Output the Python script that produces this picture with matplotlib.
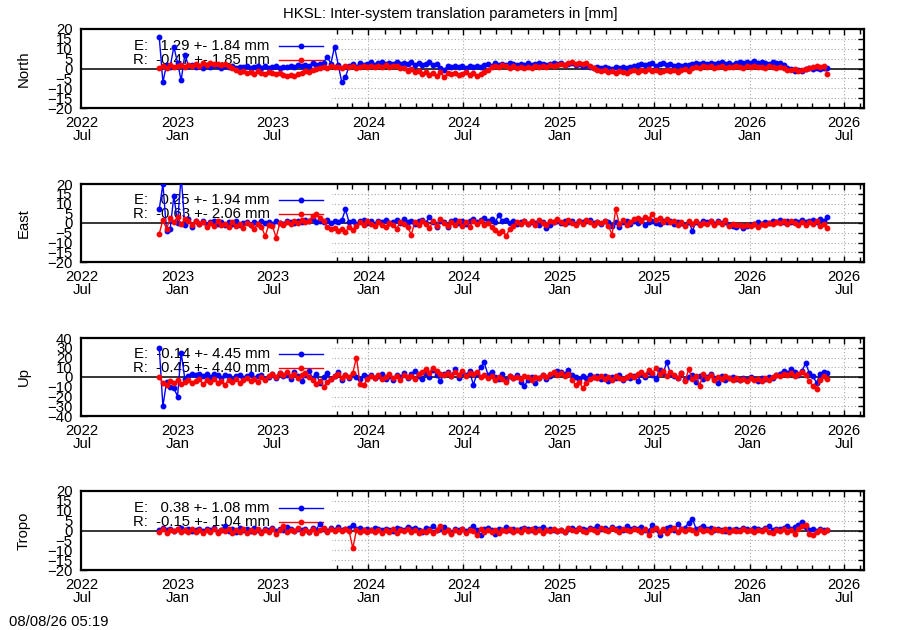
import matplotlib
matplotlib.use("Agg")
import matplotlib.pyplot as plt
import matplotlib.dates as mdates
from matplotlib.patches import Rectangle
import numpy as np
import pandas as pd
from datetime import datetime

plt.rcParams['font.family'] = ['Liberation Sans', 'DejaVu Sans']

# ---------------- data (weekly samples) ----------------
start_date = "2022-11-26"

north_E = [16, -7, 2, 1, 11, 3, -6, 7, 1.5, 2.0,
           0.8, 1.2, 0.5, 1.6, 0.9, 1.8, 1.1, 0.4, 1.5, 0.7,
           1.2, 0.3, 1.0, 0.6, 1.4, 0.2, 0.9, 1.3, 0.5, 1.1,
           0.4, 0.8, 1.5, 0.3, 1.0, 0.6, 1.2, 0.9, 1.6, 1.1,
           2.0, 1.5, 2.6, 1.8, 2.3, 3.0, 6.0, 2.5, 11.0, 2.0,
           -7.0, -4.5, 1.5, 2.2, 1.0, 2.6, 1.8, 2.4, 3.2, 2.0,
           2.8, 3.5, 2.2, 3.0, 2.5, 3.4, 2.1, 2.9, 2.4, 3.1,
           2.0, 2.7, 1.8, 2.5, 3.2, 1.6, 2.3, 0.5, -0.8, 1.2,
           0.6, 1.4, 0.8, 1.1, 0.3, 1.5, 0.9, 1.2, 0.6, 1.8,
           2.2, 1.5, 2.6, 1.9, 2.4, 1.6, 2.8, 2.1, 1.7, 2.5,
           2.0, 2.7, 1.8, 2.3, 2.9, 2.2, 1.6, 2.5, 3.0, 2.1,
           2.6, 1.9, 2.4, 2.8, 1.8, 2.2, 1.5, 1.9, 0.8, 0.3,
           0.6, 0.1, 0.9, 0.4, -0.2, 0.7, 0.5, 1.0, 0.2, 0.8,
           1.2, 1.8, 2.4, 1.6, 2.1, 2.7, 1.5, 2.2, 3.0, 1.8,
           2.3, 1.4, 1.9, 1.2, 2.0, 1.6, 2.4, 2.8, 2.2, 3.0,
           2.5, 2.9, 2.1, 2.7, 3.2, 2.4, 2.8, 2.0, 2.6, 3.1,
           2.7, 3.3, 2.9, 3.6, 2.8, 3.4, 3.0, 2.5, 3.2, 2.6,
           2.9, 2.0, 0.5, -0.5, -1.2, -0.8, -1.5, -0.3, 0.2, -0.4,
           0.3, -0.2, 0.5, 0.1]

north_R = [0.5, 1.5, 0.2, 1.8, 0.8, 1.2, 2.0, 0.6, 1.6, 1.1,
           2.2, 1.5, 2.6, 1.9, 2.8, 2.1, 2.5, 1.7, 2.4, 1.4,
           0.2, -1.0, -1.8, -1.2, -2.3, -1.6, -2.6, -1.4, -2.1, -2.8,
           -1.7, -2.4, -3.0, -2.2, -3.4, -3.8, -3.1, -3.9, -2.8, -2.2,
           -1.5, -1.9, -0.8, -0.3, 0.4, 0.9, 0.3, 1.2, 0.6, 1.0,
           0.5, 1.3, 0.7, 1.1, 0.4, 0.9, 1.4, 0.8, 1.2, 0.6,
           1.3, 0.9, 1.6, 0.7, 1.1, 1.5, 0.5, 0.2, -1.2, -0.5,
           -2.0, -1.3, -2.8, -1.6, -3.2, -2.2, -3.6, -1.8, -4.2, -2.5,
           -3.0, -2.2, -3.5, -2.6, -1.9, -3.1, -2.4, -3.8, -2.7, -2.0,
           -0.8, 0.6, 1.4, 0.9, 1.8, 1.2, 0.5, 1.1, 0.3, 0.8,
           0.2, 1.0, 0.4, 1.3, 0.7, 1.5, 0.9, 1.8, 1.2, 2.0,
           2.4, 1.9, 2.8, 3.2, 2.5, 3.0, 2.2, 2.7, 1.5, 0.2,
           -0.8, -1.5, -1.0, -2.0, -1.3, -2.5, -1.1, -1.8, -2.2, -1.4,
           -1.0, -1.6, -0.7, -1.2, -0.4, -1.5, -0.9, -2.0, -1.1, -0.6,
           -1.4, -0.8, -1.7, -1.0, -0.5, -1.3, 0.2, 0.9, 0.4, 1.1,
           0.6, 1.2, 0.3, 0.8, 1.4, 0.5, 1.0, 0.7, 1.3, 0.9,
           0.5, 1.2, 0.8, 1.5, 0.6, 1.0, 0.4, 1.1, 0.7, 0.3,
           0.9, 0.2, -0.6, -1.0, -0.3, -1.4, -0.7, -0.2, 0.4, 0.9,
           1.4, 0.8, 1.2, -3.0]

east_E = [7, 20, -4, -3, 14, 0, 24, -1, 2, -2,
          1.0, -0.5, 0.8, -1.2, 0.3, 1.1, -0.6, 0.4, -0.9, 0.7,
          -0.3, 0.9, -1.0, 0.2, 0.6, -0.8, 0.5, -0.4, 1.0, -0.2,
          0.6, -0.5, 0.8, 0.1, -0.7, 0.9, 0.3, -0.2, 1.2, 0.5,
          1.5, 0.8, 1.9, 0.4, 1.2, 0.6, 1.6, 0.2, 1.0, 0.5,
          1.4, 7.0, 0.3, 1.1, -0.4, 0.8, 1.3, 0.2, 0.9, -0.5,
          1.0, 0.4, 1.6, -0.2, 0.7, 1.3, 0.0, 2.2, 0.5, 1.1,
          -0.3, 0.9, 1.5, 0.2, 3.2, 0.6, -1.8, 1.0, 0.3, -2.2,
          0.8, 1.6, 0.2, 1.2, -0.4, 0.9, 1.8, 0.5, 1.3, 2.5,
          1.0, 1.8, 0.4, 4.2, 0.9, 1.5, 0.2, 0.8, -0.3, 0.6,
          1.2, -0.5, 0.7, 0.1, -1.2, 0.5, -2.5, -1.0, 0.3, 0.9,
          -0.2, 1.1, 0.4, 0.8, -0.6, 1.2, 0.3, 0.9, 1.5, 0.2,
          0.7, -0.4, 1.0, 0.3, -1.5, 0.6, -2.0, 0.4, 1.1, -0.3,
          0.8, 0.1, 1.3, -0.8, 0.5, 1.0, 0.2, -0.5, 0.9, 0.4,
          1.2, -0.3, 0.6, 0.0, -1.0, 0.7, -4.0, 0.4, -0.6, 0.9,
          0.3, 1.1, -0.4, 0.8, 0.2, 0.6, -0.8, -1.5, -2.2, -1.0,
          -2.8, -1.6, -0.9, -0.3, 0.4, -0.5, 0.7, 0.2, 1.0, 0.5,
          1.4, 0.6, 1.0, 0.3, 1.2, 0.7, 1.5, 0.4, 0.9, 1.3,
          0.6, 1.8, 1.1, 3.2]

east_R = [-5.5, 1.5, -3.0, 2.5, 0.5, 3.0, -0.5, 2.0, 0.8, -1.0,
          1.2, -0.5, 0.6, -2.0, 0.2, -1.5, 0.8, -1.2, -0.3, -2.2,
          0.4, -1.6, -0.6, -2.5, 0.1, -1.0, -3.0, -0.4, -1.8, -6.8,
          -0.8, -1.5, -7.5, -0.2, -1.2, 0.6, -0.5, 1.0, 0.2, 1.4,
          0.5, 1.1, 3.5, 4.5, 2.8, 1.0, -1.8, -3.2, -2.5, -4.0,
          -3.0, -4.5, -2.2, -3.6, -1.5, 0.3, -0.8, 0.8, -0.3, -1.5,
          0.5, -0.9, -2.2, 0.2, -1.1, -3.0, 0.6, -0.4, -1.8, -6.0,
          0.4, -1.0, 1.2, -0.6, -2.5, 0.8, -1.3, 2.2, -0.2, -1.6,
          0.5, -0.8, 1.1, -1.4, 0.3, -2.0, 0.9, -0.5, 1.2, -1.0,
          0.2, -1.8, -3.5, -5.0, -4.0, -6.5, -3.0, -1.5, 0.4, -0.6,
          1.0, -0.3, 0.8, -1.0, 1.5, 0.2, -0.8, 1.2, 0.4, 2.0,
          0.6, -0.5, 1.3, 0.1, -1.2, 0.9, -0.4, 1.6, 0.3, -0.8,
          0.7, -0.2, 1.1, -1.5, -6.0, 7.0, -0.5, 1.4, -0.9, 0.6,
          1.8, 2.6, 1.2, 3.2, 2.0, 4.8, 1.5, 2.8, 0.6, 2.2,
          0.3, 1.0, -0.8, 0.5, -1.5, 0.8, -0.4, 1.2, -1.0, 0.2,
          -0.6, 0.9, -1.2, 0.4, -0.3, 1.3, -1.5, -0.5, -1.2, -0.8,
          -1.6, -0.9, -1.4, -0.6, -1.8, -0.4, -1.0, 0.2, -0.7, 0.5,
          -0.2, 0.8, -0.5, 1.1, 0.0, -0.8, 0.6, -1.2, 0.3, -0.5,
          0.9, -1.5, -0.6, -2.5]

up_E = [30, -30, -5, -10, -11, -20, 25, -2, 1, 3,
        2.0, 3.5, 1.0, 2.8, 0.5, 3.2, 1.8, -1.0, 2.5, 0.8,
        -3.0, 1.5, 2.2, -1.5, 0.6, 3.0, -0.8, 1.2, 2.0, -2.2,
        0.5, 3.5, -1.0, 4.2, 0.8, 2.5, -2.5, 5.0, 1.0, -4.0,
        2.0, 6.5, -1.5, 3.0, -6.0, 0.5, 4.0, -2.0, 1.5, 5.5,
        -3.5, 2.0, -1.0, 3.5, 0.2, -2.5, 1.8, -0.5, 2.5, -1.5,
        0.8, 3.0, -2.0, 1.5, -3.5, 2.2, 0.0, 4.0, -1.0, 2.8,
        6.0, 1.0, -2.5, 4.5, 0.5, 7.5, 2.0, -4.0, 3.5, 5.0,
        1.5, 8.0, -1.0, 4.5, 2.0, 6.0, -8.0, 3.0, 10.0, 15.0,
        2.5, 5.5, 0.5, -2.0, 3.0, -3.5, 1.0, -1.5, 2.0, -5.0,
        -9.0, -3.0, 0.5, -6.5, -1.0, 2.0, -2.5, 1.5, 4.5, 6.5,
        5.0, 3.0, 7.0, 2.5, 0.5, -2.0, 1.0, -1.5, 2.0, -0.5,
        0.8, -2.5, 1.5, -4.0, 0.2, -1.5, 2.5, -3.0, 0.5, -1.0,
        1.5, -4.5, 3.0, 0.5, 5.5, 2.0, -2.0, 7.5, 4.0, 15.0,
        3.5, 1.0, -1.5, 4.0, -3.0, 0.5, 2.5, -5.5, 1.0, -2.0,
        0.5, 3.0, -1.5, -6.0, 1.0, -3.5, -1.0, 0.5, -2.0, -2.8,
        -1.5, -3.0, -0.5, -2.5, -4.0, -1.0, -2.0, 0.5, -1.5, 2.0,
        3.5, 6.5, 4.0, 8.0, 5.0, 2.5, 6.0, 14.0, 4.5, 1.0,
        -6.0, 3.0, 5.5, 4.0]

up_R = [0.0, -6.0, -8.0, -4.0, -6.5, -3.5, -7.0, -5.0, -3.0, -6.0,
        -4.5, -2.5, -7.5, -3.5, -5.5, -2.0, -6.5, -4.0, -8.0, -3.0,
        -5.0, -2.5, -6.0, -3.5, -1.5, -4.5, -2.0, -5.5, -0.5, -3.0,
        1.5, 3.5, 0.5, 4.0, 2.0, 5.5, 1.0, 3.0, -1.0, 2.5,
        4.5, 0.5, -3.5, -7.0, -4.0, -10.0, -5.5, -2.0, 1.0, 3.5,
        -1.5, 2.5, 0.0, 4.0, 20.0, -7.0, -8.0, -2.0, 1.5, -1.0,
        2.0, -2.5, 0.5, 3.0, -1.5, 1.0, -3.0, 2.5, -0.5, 1.5,
        -2.0, 3.5, 5.5, 8.0, 4.0, 9.5, 6.0, 3.5, 2.0, 4.5,
        1.5, 5.0, 2.5, 6.5, 1.0, 4.0, 3.0, 5.5, 0.5, 2.0,
        -1.0, 1.5, -3.5, 0.5, -2.0, -5.0, 1.0, -1.5, 0.0, -2.5,
        1.5, -0.5, -3.0, 0.5, -1.5, 2.5, 0.0, 3.5, 5.0, 2.0,
        4.0, 1.5, 3.0, -3.0, -8.0, -5.5, -11.0, -6.0, -2.0, 0.5,
        -1.5, 1.0, -2.0, 0.5, -3.0, 1.5, -1.0, -2.5, 0.5, 2.0,
        -0.5, 3.0, 5.0, 2.0, 7.0, 4.0, 9.0, 3.0, 6.0, 1.5,
        5.5, 2.5, -1.5, 4.0, -4.0, 8.0, -2.5, 1.0, -9.0, 3.5,
        -1.0, 2.5, -3.0, 0.5, -2.0, 1.5, -1.0, -3.0, -1.5, -3.5,
        -2.0, -4.0, -1.5, -3.0, -2.5, -4.5, -1.0, -3.0, 0.5, 2.5,
        1.5, 3.5, 2.0, 4.0, 1.5, 3.0, 5.5, 2.5, -4.0, -9.0,
        -12.0, -3.0, 1.5, -2.0]

tropo_E = [0.5, 1.2, 0.2, 0.9, -0.3, 0.6, 1.4, 0.1, 0.8, -0.5,
           0.4, 1.0, -0.2, 0.7, 0.3, 1.3, -0.6, 0.5, 2.2, 0.0,
           0.6, -0.8, 1.1, 0.2, 0.8, -0.4, 1.5, 0.3, -1.0, 0.9,
           0.4, 1.2, -0.5, 0.7, 0.1, 2.0, 0.6, -0.3, 1.0, 0.2,
           0.8, -0.6, 1.3, 0.4, 3.5, 0.9, 0.0, 1.1, 0.5, 1.6,
           0.3, 0.8, 1.5, 3.0, 0.6, 1.2, 0.2, 0.9, 0.4, 1.3,
           0.7, 0.1, 1.0, 0.5, -0.2, 1.4, 0.6, 0.3, 2.0, 0.8,
           1.5, 0.4, -0.9, 1.1, 0.6, 2.2, 0.3, 0.9, 1.8, 0.5,
           -1.2, 0.7, 0.2, 1.0, -0.5, 0.8, 2.5, 0.4, -2.5, 0.6,
           1.2, 0.3, -1.8, 0.9, 0.5, 1.6, 0.2, 1.0, 0.4, 0.8,
           1.4, 0.6, 0.1, 1.1, 0.7, 1.8, 0.3, 0.9, 0.2, -0.3,
           0.5, -0.6, 0.8, 1.2, 0.4, 1.5, 0.9, 0.3, 1.1, 0.6,
           2.5, 0.8, 1.3, 0.5, 1.6, 0.9, 1.2, 0.4, 2.2, 1.0,
           1.5, 0.7, 1.9, 0.3, -0.2, 2.8, 0.6, -2.5, 0.4, 1.2,
           2.0, 0.5, 3.2, 0.8, 1.5, 4.0, 6.0, 0.9, 1.4, 2.5,
           0.6, 1.1, 0.3, 1.0, 0.5, -0.4, 0.7, 0.2, 0.9, 0.4,
           1.2, 0.6, 0.3, 1.4, 0.8, 0.5, 1.1, 2.5, 0.3, 0.9,
           0.6, 1.3, 2.2, 0.8, 1.6, 3.0, 4.5, 1.8, 0.4, 0.9,
           -0.5, 0.8, 0.1, 0.5]

tropo_R = [-0.8, 0.8, -1.2, 0.5, -0.5, 0.9, -1.0, 0.3, -0.6, 0.6,
           -0.9, 0.2, -1.3, 0.4, -0.7, 0.7, -1.1, 0.1, -0.4, 0.8,
           -1.5, 0.3, -0.8, 0.9, -1.2, 0.2, -0.6, 1.0, -1.4, 0.4,
           -0.9, 0.6, -1.6, 0.2, 2.5, -1.0, 0.5, -0.5, 1.2, -1.3,
           0.3, -0.7, 0.8, -1.1, 0.4, 1.5, -0.8, 0.6, -0.3, 0.9,
           -0.5, 1.0, -0.2, -9.0, 0.2, -0.6, 0.4, -1.0, 0.3, -0.7,
           0.5, -1.2, 0.1, -0.8, 0.6, -1.4, 0.2, -0.5, 0.7, -1.0,
           0.3, -1.5, 0.0, -0.9, 0.5, -1.3, 0.2, 2.5, -0.8, 0.4,
           -1.8, 0.1, -0.6, 0.8, -1.2, 0.3, -0.4, -2.5, 0.6, -1.0,
           0.2, -0.7, 0.5, -1.1, 0.4, -0.3, 0.9, -0.6, 0.1, -1.0,
           0.6, -0.4, 0.8, -0.9, 0.3, -1.2, 0.5, -0.2, 1.0, -0.5,
           0.4, -0.8, 1.1, 0.2, -0.5, 1.3, 0.0, -0.7, 0.9, 0.3,
           -0.6, 1.2, 0.4, -0.3, 1.5, 0.1, -0.8, 0.9, 0.5, -0.4,
           1.0, 0.2, -1.0, 0.7, -2.2, 0.5, 1.1, -0.6, 0.8, -1.3,
           0.4, 1.2, -0.9, 0.6, -0.3, 1.0, 0.2, -1.5, 0.7, -0.2,
           0.5, -0.6, 0.9, 0.1, -0.4, 0.6, -0.8, 0.3, 0.0, -0.5,
           0.7, -0.3, 0.4, -1.0, 0.5, -0.2, 0.8, -0.6, -1.5, 0.3,
           -0.4, 0.6, -0.9, 0.2, -2.0, 1.0, 2.5, 3.0, -1.8, -2.5,
           -1.0, 0.5, -0.8, 0.2]

panel_names = ["North", "East", "Up", "Tropo"]
panel_limits = [20, 20, 40, 20]
panel_steps = [5, 5, 10, 5]
mean_E = [1.29, 0.25, -0.14, 0.38]
std_E = [1.84, 1.94, 4.45, 1.08]
mean_R = [-0.47, -0.63, -0.45, -0.15]
std_R = [1.85, 2.06, 4.40, 1.04]
series_E = [north_E, east_E, up_E, tropo_E]
series_R = [north_R, east_R, up_R, tropo_R]

title = "HKSL: Inter-system translation parameters in [mm]"
stamp = "08/08/26 05:19"

# ---------------- figure ----------------
W, H = 900, 630
fig = plt.figure(figsize=(W / 100, H / 100), dpi=100)

panel_px = [(29, 108), (184, 262), (338, 416), (491, 570)]
left_px, right_px = 81, 864
xmin, xmax = datetime(2022, 6, 29), datetime(2026, 8, 8)

FS = 10.7
blue = (0, 0, 1)
red = (1, 0, 0)
MS = 3.2
LW = 1.0

for k in range(4):
    top, bot = panel_px[k]
    ax = fig.add_axes([left_px / W, (H - bot) / H, (right_px - left_px) / W, (bot - top) / H])
    lim, step = panel_limits[k], panel_steps[k]
    ax.set_xlim(xmin, xmax)
    ax.set_ylim(-lim, lim)
    ax.set_yticks(np.arange(-lim, lim + 1, step))
    ax.xaxis.set_major_locator(mdates.MonthLocator(bymonth=[1, 7]))
    ax.xaxis.set_minor_locator(mdates.MonthLocator())
    ax.xaxis.set_major_formatter(mdates.DateFormatter("%Y\n%b"))
    ax.tick_params(which='both', direction='in', top=True, right=True,
                   labelsize=FS, width=1.0, colors='black')
    ax.tick_params(which='major', length=4)
    ax.tick_params(which='minor', length=3.5)
    ax.tick_params(axis='y', pad=6)
    ax.tick_params(axis='x', pad=6)
    for lbl in ax.get_xticklabels():
        lbl.set_linespacing(0.92)
    for sp in ax.spines.values():
        sp.set_linewidth(1.6)
    ax.set_axisbelow(True)
    ax.grid(True, which='major', color='#a8a8a8', linestyle=(0, (1, 2)), linewidth=0.8)

    # opaque key area
    ax.add_patch(Rectangle((0, 0), 0.32, 1, transform=ax.transAxes,
                           facecolor='white', edgecolor='none', zorder=1))
    ax.axhline(0, color='black', lw=1.1, zorder=2)

    ax.set_ylabel(panel_names[k], fontsize=FS)
    ax.yaxis.set_label_coords((31 - left_px) / (right_px - left_px), 0.5)

    # key
    ky = [0.79, 0.61]
    labels = ["E: {:6.2f} +- {:.2f} mm".format(mean_E[k], std_E[k]),
              "R: {:6.2f} +- {:.2f} mm".format(mean_R[k], std_R[k])]
    for j, (lab, col) in enumerate(zip(labels, [blue, red])):
        ax.text(0.241, ky[j], lab, transform=ax.transAxes, ha='right', va='center',
                fontsize=FS, zorder=2.5)
        ax.plot([0.253, 0.309], [ky[j], ky[j]], transform=ax.transAxes,
                color=col, lw=LW, zorder=2.6)
        ax.plot([0.281], [ky[j]], transform=ax.transAxes, marker='o', ms=MS,
                color=col, mec=col, zorder=2.6)

    dE = pd.date_range(start_date, periods=len(series_E[k]), freq='7D')
    dR = pd.date_range(start_date, periods=len(series_R[k]), freq='7D')
    ax.plot(dE, series_E[k], color=blue, lw=LW, marker='o', ms=MS, mec=blue, zorder=3)
    ax.plot(dR, series_R[k], color=red, lw=LW, marker='o', ms=MS, mec=red, zorder=4)

fig.text(450 / W, 1 - 14 / H, title, ha='center', va='center', fontsize=FS)
fig.text(9 / W, 1 - 622 / H, stamp, ha='left', va='center', fontsize=FS)

fig.savefig("out.png", dpi=100)
